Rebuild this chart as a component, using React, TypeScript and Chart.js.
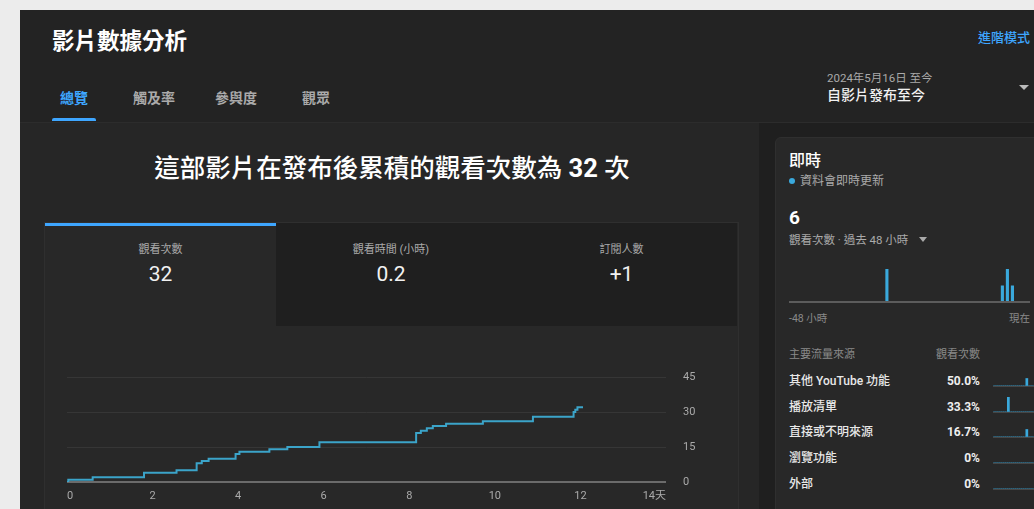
import React, { useEffect, useRef } from "react";
import { Chart, registerables } from "chart.js";

Chart.register(...registerables);

const FONT = 'Roboto, "Noto Sans CJK TC", "Noto Sans", sans-serif';
const BLUE = "#3ea6ff";
const LINE_BLUE = "#3ba4c9";
const BAR_BLUE = "#3aa9dc";

// ---- main cumulative views chart ----
const stepDays = [0, 0.03, 0.6, 1.8, 2.56, 3.03, 3.15, 3.31, 3.94, 4.03, 4.73, 5.15, 5.9, 8.16, 8.27, 8.41, 8.55, 8.86, 9.72, 10.89, 11.84, 11.88, 11.93, 12.06];
const cumulativeViews = [0, 1, 2, 4, 5, 8, 9, 10, 12, 13, 14, 15, 17, 21, 22, 23, 24, 25, 26, 28, 30, 31, 32, 32];
const xTickDays = [0, 2, 4, 6, 8, 10, 12, 14];
const xTickLabels = ["0", "2", "4", "6", "8", "10", "12", "14天"];
const yTickValues = [0, 15, 30, 45];

// ---- realtime (last 48 hours) ----
const realtimeHours = [
  "-48", "-47", "-46", "-45", "-44", "-43", "-42", "-41", "-40", "-39",
  "-38", "-37", "-36", "-35", "-34", "-33", "-32", "-31", "-30", "-29",
  "-28", "-27", "-26", "-25", "-24", "-23", "-22", "-21", "-20", "-19",
  "-18", "-17", "-16", "-15", "-14", "-13", "-12", "-11", "-10", "-9",
  "-8", "-7", "-6", "-5", "-4", "-3", "-2", "-1",
];
const realtimeViews = [
  0, 0, 0, 0, 0, 0, 0, 0, 0, 0,
  0, 0, 0, 0, 0, 0, 0, 0, 0, 2,
  0, 0, 0, 0, 0, 0, 0, 0, 0, 0,
  0, 0, 0, 0, 0, 0, 0, 0, 0, 0,
  0, 0, 1, 2, 1, 0, 0, 0,
];

// ---- metric tabs ----
const metricLabels = ["觀看次數", "觀看時間 (小時)", "訂閱人數"];
const metricValues = ["32", "0.2", "+1"];

// ---- traffic sources ----
const trafficSources = ["其他 YouTube 功能", "播放清單", "直接或不明來源", "瀏覽功能", "外部"];
const trafficShares = ["50.0%", "33.3%", "16.7%", "0%", "0%"];
const sparkSlots = ["1", "2", "3", "4", "5", "6", "7", "8", "9", "10", "11", "12", "13", "14", "15", "16", "17", "18", "19", "20"];
const sparkOther = [0, 0, 0, 0, 0, 0, 0, 0, 0, 0, 0, 0, 0, 0, 0, 0, 1, 0, 0, 0];
const sparkPlaylist = [0, 0, 0, 0, 0, 0, 0, 2, 0, 0, 0, 0, 0, 0, 0, 0, 0, 0, 0, 0];
const sparkDirect = [0, 0, 0, 0, 0, 0, 0, 0, 0, 0, 0, 0, 0, 0, 0, 0, 1, 0, 0, 0];
const sparkBrowse = [0, 0, 0, 0, 0, 0, 0, 0, 0, 0, 0, 0, 0, 0, 0, 0, 0, 0, 0, 0];
const sparkExternal = [0, 0, 0, 0, 0, 0, 0, 0, 0, 0, 0, 0, 0, 0, 0, 0, 0, 0, 0, 0];
const sparkSeries = [sparkOther, sparkPlaylist, sparkDirect, sparkBrowse, sparkExternal];

function ChartBox({ make, box }: { make: () => any; box: React.CSSProperties }) {
  const ref = useRef<HTMLCanvasElement | null>(null);
  useEffect(() => {
    if (!ref.current) return;
    const chart = new Chart(ref.current, make());
    return () => chart.destroy();
  }, []);
  return (
    <div style={{ position: "absolute", ...box }}>
      <canvas ref={ref} />
    </div>
  );
}

function Txt({
  x, y, size, color, weight = 400, align = "left", children, style,
}: {
  x: number; y: number; size: number; color: string; weight?: number;
  align?: "left" | "right" | "center"; children: React.ReactNode; style?: React.CSSProperties;
}) {
  const h = Math.round(size * 1.4);
  const s: React.CSSProperties = {
    position: "absolute",
    top: y - h / 2,
    height: h,
    lineHeight: h + "px",
    fontSize: size,
    color,
    fontWeight: weight,
    whiteSpace: "nowrap",
    fontFamily: FONT,
  };
  if (align === "left") s.left = x;
  else if (align === "right") s.right = 1034 - x;
  else { s.left = x; s.transform = "translateX(-50%)"; }
  return <div style={{ ...s, ...style }}>{children}</div>;
}

function Tri({ x, y, w, h, color }: { x: number; y: number; w: number; h: number; color: string }) {
  return (
    <div style={{
      position: "absolute", left: x, top: y, width: 0, height: 0,
      borderLeft: `${w / 2}px solid transparent`, borderRight: `${w / 2}px solid transparent`,
      borderTop: `${h}px solid ${color}`,
    }} />
  );
}

const mainConfig = () => ({
  type: "line",
  data: {
    datasets: [{
      data: stepDays.map((d, i) => ({ x: d, y: cumulativeViews[i] })),
      borderColor: LINE_BLUE,
      borderWidth: 2,
      pointRadius: 0,
      stepped: true,
      fill: false,
    }],
  },
  options: {
    animation: false,
    responsive: true,
    maintainAspectRatio: false,
    events: [],
    plugins: { legend: { display: false }, tooltip: { enabled: false } },
    layout: { padding: { top: 37, left: 22, right: 0, bottom: 6 } },
    scales: {
      x: {
        type: "linear",
        min: 0,
        max: 14,
        grid: { display: false, drawTicks: false },
        border: { display: false },
        afterBuildTicks: (s: any) => { s.ticks = xTickDays.map((v) => ({ value: v })); },
        afterFit: (s: any) => { s.height = 21; },
        ticks: {
          align: "inner",
          padding: 8,
          maxRotation: 0,
          autoSkip: false,
          color: "#aaaaaa",
          font: { family: FONT, size: 11 },
          callback: (v: any) => xTickLabels[xTickDays.indexOf(v)] ?? "",
        },
      },
      y: {
        position: "right",
        min: 0,
        max: 45,
        afterBuildTicks: (s: any) => { s.ticks = yTickValues.map((v) => ({ value: v })); },
        afterFit: (s: any) => { s.width = 71; },
        grid: {
          drawTicks: false,
          color: (c: any) => (c.tick && c.tick.value === 0 ? "#6b6b6b" : "#363636"),
          lineWidth: (c: any) => (c.tick && c.tick.value === 0 ? 2 : 1),
        },
        border: { display: false },
        ticks: {
          padding: 17,
          crossAlign: "near",
          color: "#aaaaaa",
          font: { family: FONT, size: 11 },
        },
      },
    },
  },
});

const realtimeConfig = () => ({
  type: "bar",
  data: {
    labels: realtimeHours,
    datasets: [{
      data: realtimeViews,
      backgroundColor: BAR_BLUE,
      barPercentage: 0.62,
      categoryPercentage: 1,
    }],
  },
  options: {
    animation: false,
    responsive: true,
    maintainAspectRatio: false,
    events: [],
    plugins: { legend: { display: false }, tooltip: { enabled: false } },
    layout: { padding: { top: 5, left: 0, right: 0, bottom: 2 } },
    scales: {
      x: { display: false },
      y: {
        min: 0,
        max: 2,
        ticks: { display: false, stepSize: 1 },
        afterFit: (s: any) => { s.width = 0; },
        border: { display: false },
        grid: {
          drawTicks: false,
          color: (c: any) => (c.tick && c.tick.value === 0 ? "#5c5c5c" : "rgba(0,0,0,0)"),
          lineWidth: 2,
        },
      },
    },
  },
});

const sparkConfig = (values: number[]) => () => ({
  type: "bar",
  data: {
    labels: sparkSlots,
    datasets: [{
      data: values,
      backgroundColor: BAR_BLUE,
      barPercentage: 1,
      categoryPercentage: 1,
    }],
  },
  options: {
    animation: false,
    responsive: true,
    maintainAspectRatio: false,
    events: [],
    plugins: { legend: { display: false }, tooltip: { enabled: false } },
    layout: { padding: { top: 1, left: 0, right: 0, bottom: 1 } },
    scales: {
      x: { display: false },
      y: {
        min: 0,
        max: 2,
        ticks: { display: false, stepSize: 2 },
        afterFit: (s: any) => { s.width = 0; },
        border: { display: false },
        grid: {
          drawTicks: false,
          color: (c: any) => (c.tick && c.tick.value === 0 ? "#474747" : "rgba(0,0,0,0)"),
          lineWidth: 1,
        },
      },
    },
  },
});

export default function App() {
  const tabX = [45, 276, 506];
  const tabW = [231, 230, 231];
  const rowY = [381.5, 407.2, 432.9, 458.6, 484.3];
  return (
    <div style={{
      position: "fixed", left: 0, top: 0, width: 1034, height: 509, overflow: "hidden",
      background: "#ececec", fontFamily: FONT,
    }}>
      {/* app frame */}
      <div style={{ position: "absolute", left: 20, top: 10, width: 1014, height: 499, background: "#1f1f1f" }} />
      {/* header */}
      <div style={{ position: "absolute", left: 20, top: 10, width: 1014, height: 112, background: "#232323", borderBottom: "1px solid #2c2c2c" }} />
      {/* left content */}
      <div style={{ position: "absolute", left: 20, top: 123, width: 739, height: 386, background: "#262626" }} />
      {/* right card */}
      <div style={{ position: "absolute", left: 775, top: 137, width: 300, height: 420, background: "#282828", border: "1px solid #2f2f2f", borderRadius: 6 }} />

      {/* header texts */}
      <Txt x={52} y={41.5} size={22.5} color="#ffffff" weight={600}>影片數據分析</Txt>
      <Txt x={1030} y={38} size={13} color={BLUE} weight={500} align="right">進階模式</Txt>
      <Txt x={60} y={98} size={14} color={BLUE} weight={700}>總覽</Txt>
      <Txt x={133} y={98} size={14} color="#aaaaaa" weight={600}>觸及率</Txt>
      <Txt x={215} y={98} size={14} color="#aaaaaa" weight={600}>參與度</Txt>
      <Txt x={302} y={98} size={14} color="#aaaaaa" weight={600}>觀眾</Txt>
      <div style={{ position: "absolute", left: 52, top: 118, width: 44, height: 3, background: BLUE, borderRadius: "2px 2px 0 0" }} />
      <Txt x={827} y={77.5} size={11.5} color="#aaaaaa">2024年5月16日 至今</Txt>
      <Txt x={827} y={95} size={14} color="#f1f1f1" weight={500}>自影片發布至今</Txt>
      <Tri x={1019} y={85} w={10} h={5} color="#bbbbbb" />

      {/* title */}
      <Txt x={392} y={168} size={25.5} color="#ffffff" weight={500} align="center">
        這部影片在發布後累積的觀看次數為 <span style={{ fontWeight: 700 }}>32</span> 次
      </Txt>

      {/* metric tabs */}
      <div style={{ position: "absolute", left: 44, top: 222, width: 693, height: 300, border: "1px solid #2f2f2f", background: "#282828" }} />
      {tabX.map((x, i) => (
        <div key={"tab" + i} style={{
          position: "absolute", left: x, top: 223, width: tabW[i], height: 103,
          background: i === 0 ? "#282828" : "#1f1f1f",
        }} />
      ))}
      <div style={{ position: "absolute", left: 45, top: 223, width: 231, height: 3, background: BLUE }} />
      {metricLabels.map((l, i) => (
        <Txt key={"ml" + i} x={tabX[i] + tabW[i] / 2} y={249.5} size={11} color="#aaaaaa" align="center">{l}</Txt>
      ))}
      {metricValues.map((v, i) => (
        <Txt key={"mv" + i} x={tabX[i] + tabW[i] / 2} y={274} size={21} color="#f1f1f1" align="center">{v}</Txt>
      ))}

      {/* main chart */}
      <ChartBox make={mainConfig} box={{ left: 45, top: 340, width: 692, height: 169 }} />

      {/* realtime card */}
      <Txt x={789} y={161} size={16} color="#ffffff" weight={500}>即時</Txt>
      <div style={{ position: "absolute", left: 789, top: 178, width: 6, height: 6, borderRadius: 3, background: BAR_BLUE }} />
      <Txt x={800} y={181} size={12} color="#aaaaaa">資料會即時更新</Txt>
      <Txt x={789} y={217} size={19} color="#ffffff" weight={700}>6</Txt>
      <Txt x={789} y={239.5} size={11.5} color="#aaaaaa">觀看次數 · 過去 48 小時</Txt>
      <Tri x={919} y={237} w={9} h={5} color="#aaaaaa" />
      <ChartBox make={realtimeConfig} box={{ left: 789, top: 264, width: 241, height: 40 }} />
      <Txt x={789} y={318.5} size={10.5} color="#8a8a8a">-48 小時</Txt>
      <Txt x={1030} y={318.5} size={10.5} color="#8a8a8a" align="right">現在</Txt>

      <Txt x={789} y={354} size={11} color="#8a8a8a">主要流量來源</Txt>
      <Txt x={980} y={354} size={11} color="#8a8a8a" align="right">觀看次數</Txt>
      {trafficSources.map((s, i) => (
        <Txt key={"ts" + i} x={789} y={rowY[i]} size={12} color="#e8e8e8" weight={500}>{s}</Txt>
      ))}
      {trafficShares.map((s, i) => (
        <Txt key={"tp" + i} x={980} y={rowY[i]} size={12} color="#eeeeee" weight={700} align="right">{s}</Txt>
      ))}
      {sparkSeries.map((vals, i) => (
        <ChartBox key={"sp" + i} make={sparkConfig(vals)} box={{ left: 993, top: rowY[i] + 4.5 - 16, width: 41, height: 17 }} />
      ))}
    </div>
  );
}
